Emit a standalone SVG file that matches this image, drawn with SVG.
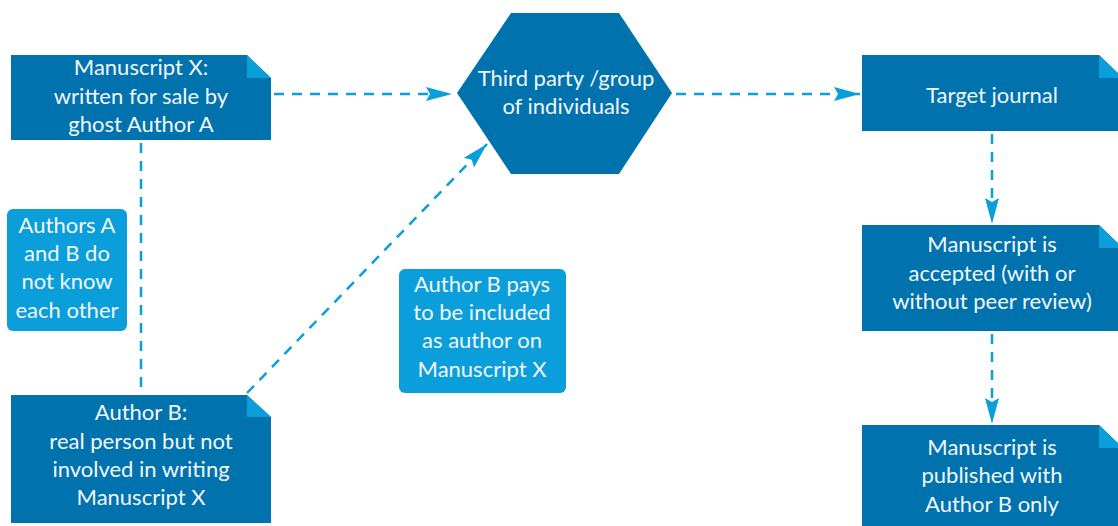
<svg xmlns="http://www.w3.org/2000/svg" width="1118" height="526" viewBox="0 0 1118 526">
<style>
.node{fill:#0072ae}
.fold{fill:#0a9fda}
.note{fill:#0a9fda}
.t{font-family:Lato,"Liberation Sans",sans-serif;font-size:22px;fill:#f2f6fa;text-anchor:middle}
.c{stroke:#0a9fda;stroke-width:2.5;stroke-dasharray:10 8;fill:none}
</style>
<defs>
<marker id="ah" markerUnits="userSpaceOnUse" markerWidth="28" markerHeight="16" refX="26" refY="7" orient="auto">
<path d="M0,0 L26,7 L0,14 L4,7 Z" fill="#0a9fda"/>
</marker>
</defs>
<rect width="1118" height="526" fill="#ffffff"/>
<g id="connectors">
<line class="c" x1="274" y1="94" x2="452" y2="94" marker-end="url(#ah)"/>
<line class="c" x1="676" y1="94" x2="860" y2="94" marker-end="url(#ah)"/>
<line class="c" x1="141" y1="143" x2="141" y2="395"/>
<line class="c" x1="247" y1="393" x2="487" y2="144" marker-end="url(#ah)"/>
<line class="c" x1="992" y1="134" x2="992" y2="224" marker-end="url(#ah)"/>
<line class="c" x1="992" y1="334" x2="992" y2="424" marker-end="url(#ah)"/>
</g>
<g id="node-manuscript-x">
<path class="node" d="M11,55 H247 L271,78 V140 H11 Z"/>
<path class="fold" d="M247,55 L271,78 H247 Z"/>
<text class="t" x="141" y="75">Manuscript X:</text>
<text class="t" x="141" y="104">written for sale by</text>
<text class="t" x="141" y="132">ghost Author A</text>
</g>
<g id="node-third-party">
<polygon class="node" points="511,13 619,13 672,93 619,174 511,174 457,93"/>
<text class="t" x="566" y="86">Third party /group</text>
<text class="t" x="566" y="114">of individuals</text>
</g>
<g id="node-target-journal">
<path class="node" d="M862,55 H1099 L1123,78 V131 H862 Z"/>
<path class="fold" d="M1099,55 L1123,78 H1099 Z"/>
<text class="t" x="992" y="103">Target journal</text>
</g>
<g id="node-accepted">
<path class="node" d="M862,225 H1099 L1123,248 V331 H862 Z"/>
<path class="fold" d="M1099,225 L1123,248 H1099 Z"/>
<text class="t" x="992" y="252">Manuscript is</text>
<text class="t" x="992" y="281">accepted (with or</text>
<text class="t" x="992" y="309">without peer review)</text>
</g>
<g id="node-published">
<path class="node" d="M862,425 H1099 L1123,448 V530 H862 Z"/>
<path class="fold" d="M1099,425 L1123,448 H1099 Z"/>
<text class="t" x="992" y="455">Manuscript is</text>
<text class="t" x="992" y="483">published with</text>
<text class="t" x="992" y="512">Author B only</text>
</g>
<g id="node-author-b">
<path class="node" d="M11,395 H247 L271,417 V523 H11 Z"/>
<path class="fold" d="M247,395 L271,417 H247 Z"/>
<text class="t" x="141" y="420">Author B:</text>
<text class="t" x="141" y="449">real person but not</text>
<text class="t" x="141" y="477">involved in writing</text>
<text class="t" x="141" y="505">Manuscript X</text>
</g>
<g id="note-authors-unknown">
<rect class="note" x="7" y="209" width="120" height="122" rx="6"/>
<text class="t" x="67" y="233">Authors A</text>
<text class="t" x="67" y="261">and B do</text>
<text class="t" x="67" y="289">not know</text>
<text class="t" x="67" y="318">each other</text>
</g>
<g id="note-author-b-pays">
<rect class="note" x="399" y="269" width="167" height="124" rx="6"/>
<text class="t" x="482" y="292">Author B pays</text>
<text class="t" x="482" y="320">to be included</text>
<text class="t" x="482" y="348">as author on</text>
<text class="t" x="482" y="377">Manuscript X</text>
</g>
</svg>
